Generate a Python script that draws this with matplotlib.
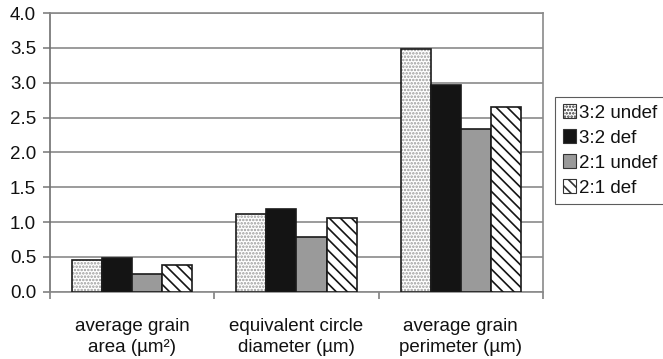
import matplotlib
matplotlib.use("Agg")
import matplotlib.pyplot as plt
import numpy as np
from matplotlib.patches import Patch

plt.rcParams['font.family'] = ['Liberation Sans', 'DejaVu Sans']
plt.rcParams['hatch.linewidth'] = 1.2

categories = ["average grain\narea (\u00b5m\u00b2)", "equivalent circle\ndiameter (\u00b5m)", "average grain\nperimeter (\u00b5m)"]
series_names = ["3:2 undef", "3:2 def", "2:1 undef", "2:1 def"]
v_32_undef = [0.45, 1.12, 3.49]
v_32_def = [0.48, 1.19, 2.96]
v_21_undef = [0.25, 0.78, 2.33]
v_21_def = [0.39, 1.06, 2.65]
y_ticks = [0.0, 0.5, 1.0, 1.5, 2.0, 2.5, 3.0, 3.5, 4.0]

series = [v_32_undef, v_32_def, v_21_undef, v_21_def]
styles = [
    dict(facecolor='white', hatch='.....', hatchcolor='#9a9a9a'),
    dict(facecolor='#141414', hatch=None, hatchcolor=None),
    dict(facecolor='#9a9a9a', hatch=None, hatchcolor=None),
    dict(facecolor='white', hatch='\\\\\\', hatchcolor='#141414'),
]

FS = 13.5

fig = plt.figure(figsize=(6.63, 3.59), dpi=100)
ax = fig.add_axes([50/663, 1-291.7/359, (543-50)/663, (291.7-13)/359])

x = np.arange(len(categories))
bw = 0.183
offsets = (np.arange(4) - 1.5) * bw
handles = []
for vals, st, off, name in zip(series, styles, offsets, series_names):
    if st['hatch']:
        ax.bar(x + off, vals, bw, facecolor=st['facecolor'], hatch=st['hatch'],
               edgecolor=st['hatchcolor'], linewidth=0, zorder=3)
        ax.bar(x + off, vals, bw, facecolor='none', edgecolor='#1a1a1a', linewidth=1.2, zorder=4)
        handles.append(Patch(facecolor=st['facecolor'], hatch=st['hatch'], edgecolor='#333333', linewidth=0.8))
    else:
        ax.bar(x + off, vals, bw, facecolor=st['facecolor'], edgecolor='#1a1a1a', linewidth=1.2, zorder=3)
        handles.append(Patch(facecolor=st['facecolor'], edgecolor='#333333', linewidth=0.8))

ax.set_xlim(-0.5, len(categories) - 0.5)
ax.set_ylim(0, 4.0)
ax.set_yticks(y_ticks)
ax.set_yticklabels([f"{t:.1f}" for t in y_ticks], fontsize=FS, color='#111111')
ax.yaxis.grid(True, color='#8a8a8a', linewidth=1.2, zorder=0)
ax.set_axisbelow(True)

ax.set_xticks(x)
ax.set_xticklabels(categories, fontsize=FS, linespacing=1.3, color='#111111')
ax.tick_params(axis='x', which='major', length=0, pad=19)
ax.set_xticks(np.arange(len(categories) + 1) - 0.5, minor=True)
ax.tick_params(axis='x', which='minor', length=5, width=1.2, color='#808080', direction='out')
ax.tick_params(axis='y', length=5, width=1.2, color='#808080', pad=5)

for s in ax.spines.values():
    s.set_color('#8a8a8a')
    s.set_linewidth(1.2)
ax.spines['left'].set_color('#707070')

leg = fig.legend(handles, series_names, loc='upper left',
                 bbox_to_anchor=(555/663, 1-97/359), bbox_transform=fig.transFigure,
                 fontsize=FS, frameon=True, fancybox=False, edgecolor='#333333',
                 handlelength=0.7, handleheight=0.7, handletextpad=0.2,
                 borderpad=0.4, labelspacing=0.42, borderaxespad=0)
leg.get_frame().set_linewidth(0.8)
for t in leg.get_texts():
    t.set_color('#111111')

fig.savefig('out.png', dpi=100)
